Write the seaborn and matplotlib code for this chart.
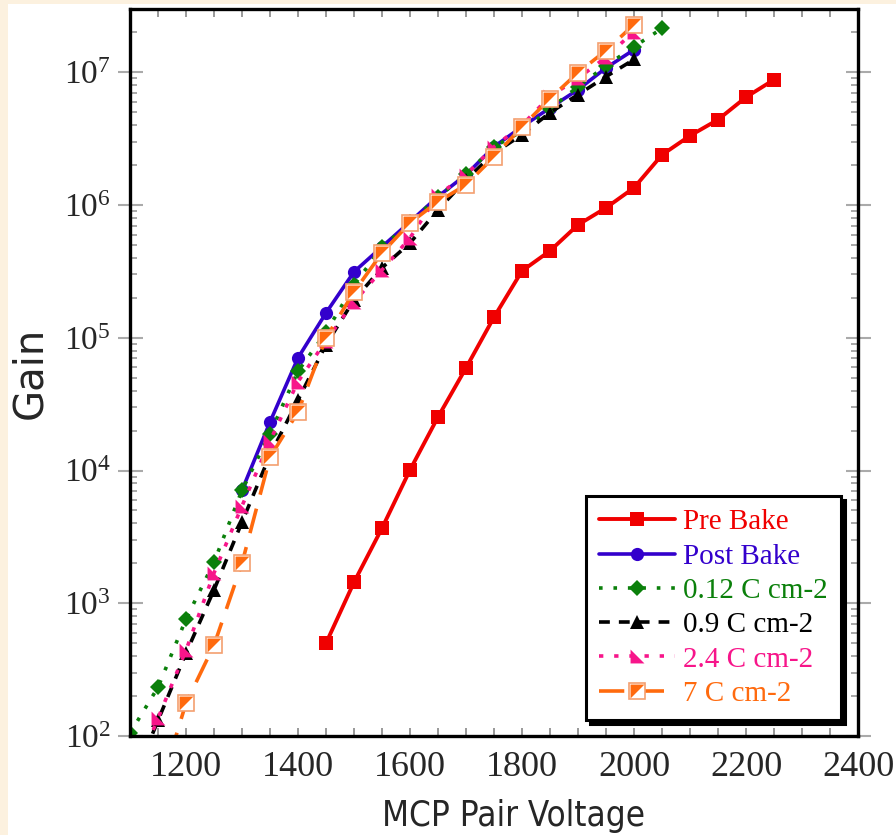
import matplotlib
matplotlib.use("Agg")
import matplotlib.pyplot as plt
import seaborn as sns
from matplotlib.ticker import MultipleLocator, LogLocator, NullFormatter
from matplotlib.patches import Rectangle
from matplotlib.legend_handler import HandlerTuple

# Gain vs MCP pair voltage
pre_volts = [1450, 1500, 1550, 1600, 1650, 1700, 1750, 1800, 1850, 1900,
             1950, 2000, 2050, 2100, 2150, 2200, 2250]
pre_gain = [500, 1440, 3680, 10100, 25300, 59300, 143000, 319000, 452000,
            710000, 953000, 1.35e6, 2.39e6, 3.33e6, 4.4e6, 6.5e6, 8.8e6]

post_volts = [1300, 1350, 1400, 1450, 1500, 1550, 1600, 1650, 1700, 1750,
              1800, 1850, 1900, 1950, 2000]
post_gain = [7100, 23200, 70600, 154000, 314000, 485000, 748000, 1.16e6,
             1.69e6, 2.75e6, 3.89e6, 5.4e6, 7.4e6, 1.08e7, 1.48e7]

c012_volts = [1100, 1150, 1200, 1250, 1300, 1350, 1400, 1450, 1500, 1550,
              1600, 1650, 1700, 1750, 1800, 1850, 1900, 1950, 2000, 2050]
c012_gain = [105, 233, 760, 2040, 7100, 19000, 56000, 110000, 250000, 480000,
             740000, 1.15e6, 1.7e6, 2.75e6, 3.6e6, 5.3e6, 7.8e6, 1.12e7,
             1.56e7, 2.14e7]

c09_volts = [1100, 1150, 1200, 1250, 1300, 1350, 1400, 1450, 1500, 1550,
             1600, 1650, 1700, 1750, 1800, 1850, 1900, 1950, 2000]
c09_gain = [40, 131, 421, 1260, 4090, 13100, 34000, 88600, 193000, 337000,
            518000, 920000, 1.55e6, 2.46e6, 3.39e6, 4.97e6, 6.79e6, 9.28e6,
            1.25e7]

c24_volts = [1100, 1150, 1200, 1250, 1300, 1350, 1400, 1450, 1500, 1550,
             1600, 1650, 1700, 1750, 1800, 1850, 1900, 1950, 2000]
c24_gain = [42, 136, 443, 1690, 5410, 16700, 46700, 95000, 186000, 324000,
            566000, 1.19e6, 1.69e6, 2.75e6, 4.0e6, 6.6e6, 9.0e6, 1.3e7, 2.03e7]

c7_volts = [1150, 1200, 1250, 1300, 1350, 1400, 1450, 1500, 1550, 1600,
            1650, 1700, 1750, 1800, 1850, 1900, 1950, 2000]
c7_gain = [36, 177, 483, 2000, 12600, 27600, 99700, 222000, 436000, 735000,
           1.06e6, 1.42e6, 2.31e6, 3.89e6, 6.34e6, 9.95e6, 1.46e7, 2.29e7]

labels = ["Pre Bake", "Post Bake", "0.12 C cm-2", "0.9 C cm-2",
          "2.4 C cm-2", "7 C cm-2"]
colors = ["#f00000", "#3300cc", "#0b800b", "#000000", "#f7158a", "#ff6a0e"]

sns.set_style("white")
plt.rcParams["font.family"] = ["Liberation Serif", "DejaVu Serif"]

fig = plt.figure(figsize=(8.96, 8.35), dpi=100)
fig.patch.set_facecolor("white")
# cream strips on the left and top edge of the slide
fig.patches.append(Rectangle((0, 0), 8 / 896, 1, transform=fig.transFigure,
                             facecolor="#fcf1df", edgecolor="none"))
fig.patches.append(Rectangle((0, 1 - 4 / 835), 1, 4 / 835, transform=fig.transFigure,
                             facecolor="#fcf1df", edgecolor="none"))

ax = fig.add_axes([130 / 896, 99 / 835, 728 / 896, 727 / 835])

tri_left = [(-1, -1), (-1, 1), (1, -1)]      # pink marker
half_sq = [(-1, 1), (1, 1), (-1, -1)]        # orange filled half

sns.lineplot(x=pre_volts, y=pre_gain, ax=ax, color=colors[0], linewidth=2.8,
             marker="s", markersize=10, markeredgecolor=colors[0], markeredgewidth=0)
sns.lineplot(x=post_volts, y=post_gain, ax=ax, color=colors[1], linewidth=2.6,
             marker="o", markersize=9.5, markeredgecolor=colors[1], markeredgewidth=0)
sns.lineplot(x=c012_volts, y=c012_gain, ax=ax, color=colors[2], linewidth=2.6,
             linestyle=(0, (1, 3)), marker="D", markersize=8,
             markeredgecolor=colors[2], markeredgewidth=0)
sns.lineplot(x=c09_volts, y=c09_gain, ax=ax, color=colors[3], linewidth=2.6,
             linestyle=(0, (3, 2.5)), marker="^", markersize=10,
             markeredgecolor=colors[3], markeredgewidth=0)
sns.lineplot(x=c24_volts, y=c24_gain, ax=ax, color=colors[4], linewidth=2.6,
             linestyle=(0, (1.2, 3)), marker=tri_left, markersize=10,
             markeredgecolor=colors[4], markeredgewidth=0)
sns.lineplot(x=c7_volts, y=c7_gain, ax=ax, color=colors[5], linewidth=2.6,
             linestyle=(0, (7, 4)), marker="s", markersize=11,
             markerfacecolor="white", markeredgecolor="#f4a070", markeredgewidth=1.2)
sns.lineplot(x=c7_volts, y=c7_gain, ax=ax, color=colors[5], linestyle="none",
             marker=half_sq, markersize=10, markeredgewidth=0)

ax.set_yscale("log")
ax.set_xlim(1100, 2400)
ax.set_ylim(1e2, 3e7)

ax.xaxis.set_major_locator(MultipleLocator(200))
ax.xaxis.set_minor_locator(MultipleLocator(50))
ax.yaxis.set_major_locator(LogLocator(base=10))
ax.yaxis.set_minor_locator(LogLocator(base=10, subs=range(2, 10)))
ax.yaxis.set_minor_formatter(NullFormatter())

ax.tick_params(axis="x", which="both", direction="in", length=6, width=1.2,
               color="#888888", bottom=True, top=True, labelsize=26, pad=11)
ax.tick_params(axis="y", which="major", direction="inout", length=18, width=1.5,
               color="#aaaaaa", left=True, right=True, labelsize=24, pad=5)
ax.tick_params(axis="y", which="minor", direction="in", length=5, width=1.2,
               color="#999999", left=True, right=True)

for side in ["left", "right", "top", "bottom"]:
    ax.spines[side].set_visible(True)
    ax.spines[side].set_color("black")
    ax.spines[side].set_linewidth(2.4)

ax.set_ylabel("Gain", fontfamily="DejaVu Sans", fontsize=29)
ax.yaxis.set_label_coords(-0.11, 0.5)
ax.set_xlabel("MCP Pair Voltage", fontfamily="DejaVu Sans", fontstretch="condensed",
              fontsize=25)
ax.xaxis.set_label_coords(0.527, -0.086)

lines = ax.get_lines()
handles = [lines[0], lines[1], lines[2], lines[3], lines[4], (lines[5], lines[6])]
leg = ax.legend(handles, labels, loc="lower left", bbox_to_anchor=(0.626, 0.022),
                fontsize=21, frameon=True, fancybox=False, handlelength=2.6,
                handletextpad=0.3, labelspacing=0.27, borderpad=0.45,
                borderaxespad=0, handler_map={tuple: HandlerTuple(ndivide=1)},
                shadow={"ox": 3, "oy": -3, "shade": 1.0, "alpha": 1})
leg.get_frame().set_edgecolor("black")
leg.get_frame().set_linewidth(2.2)
for txt, c in zip(leg.get_texts(), colors):
    txt.set_color(c)

fig.savefig("out.png", dpi=100, facecolor=fig.get_facecolor())
